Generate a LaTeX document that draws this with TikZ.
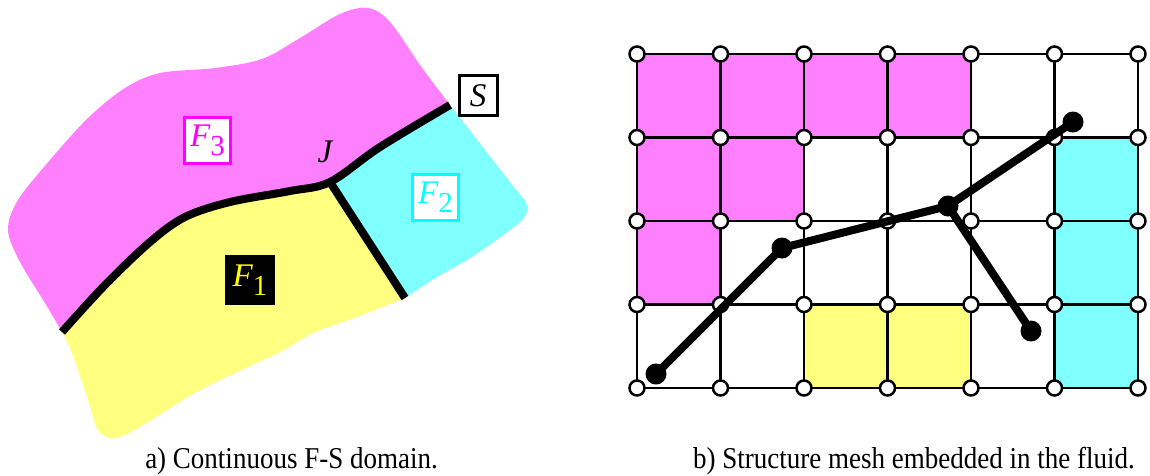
\documentclass[tikz,border=0pt]{standalone}
\usepackage{fontspec}
\setmainfont{Liberation Serif}
\definecolor{mag}{HTML}{FF80FF}
\definecolor{cya}{HTML}{80FFFF}
\definecolor{yel}{HTML}{FFFF80}
\definecolor{magdark}{HTML}{FF00FF}
\definecolor{cyadark}{HTML}{00FFFF}
\definecolor{yeldark}{HTML}{FFFF00}
\newcommand\Flab[1]{\fontsize{33}{33}\selectfont\itshape F\upshape\raisebox{-9pt}{\fontsize{29}{29}\selectfont #1}}
\begin{document}
\begin{tikzpicture}[x=1pt,y=-1pt,
  ifline/.style={line width=8pt, line join=round},
  gridline/.style={line width=2.8pt},
  gnode/.style={circle, draw=black, fill=white, line width=2.5pt, minimum size=15pt, inner sep=0pt},
  snode/.style={circle, fill=black, minimum size=21pt, inner sep=0pt},
  sline/.style={line width=8pt},
  lbl/.style={inner sep=0pt, line width=3pt},
  captext/.style={font=\fontsize{27}{32}\selectfont, inner sep=0pt}]
\useasboundingbox (0,0) rectangle (1150,475);
\fill[white] (0,0) rectangle (1150,475);

% ---------- a) continuous domain ----------
\fill[mag] plot[smooth,tension=.55] coordinates {(62,332) (105,285) (150,242) (185,217) (230,202) (290,191) (330,182) (380,147) (450,105)}
  -- plot[smooth,tension=.55] coordinates {(450,105) (420,65) (390,22) (368,8) (340,14) (300,38) (262,59) (215,68) (160,73) (125,88) (88,118) (50,160) (18,200) (8,230) (20,262) (45,303) (62,332)} -- cycle;
\fill[yel] plot[smooth,tension=.55] coordinates {(62,332) (105,285) (150,242) (185,217) (230,202) (290,191) (330,182)}
  -- (405,298)
  -- plot[smooth,tension=.55] coordinates {(405,298) (357,317) (313,333) (280,352) (200,390) (140,427) (114,438) (98,430) (88,400) (72,353) (62,332)} -- cycle;
\fill[cya] plot[smooth,tension=.55] coordinates {(330,182) (380,147) (450,105)}
  -- plot[smooth,tension=.55] coordinates {(450,105) (485,150) (513,186) (527,205) (522,220) (495,241) (467,260) (437,277) (405,298)} -- cycle;
\draw[ifline] plot[smooth,tension=.55] coordinates {(62,332) (105,285) (150,242) (185,217) (230,202) (290,191) (330,182) (380,147) (450,105)};
\draw[ifline] (330,182) -- (405,298);

\node[lbl, draw=magdark, fill=white, text=magdark, minimum width=46pt, minimum height=46pt] (f3) at (207.5,140.5) {\Flab{3}};
\node[lbl, draw=cyadark, fill=white, text=cyadark, minimum width=46pt, minimum height=46pt] (f2) at (435.5,197.5) {\Flab{2}};
\node[lbl, fill=black, text=yeldark, minimum width=50pt, minimum height=50pt] (f1) at (250,280) {\Flab{1}};
\node[lbl, draw=black, fill=white, minimum width=38pt, minimum height=40pt] (s) at (478,95.5) {\fontsize{33}{33}\selectfont\itshape S};
\node[inner sep=0pt] (j) at (325,152) {\fontsize{33}{33}\selectfont\itshape J};

% ---------- b) mesh ----------
\foreach \i in {0,...,6}{\foreach \j in {0,...,4}{\coordinate (p-\i-\j) at ({637+83.5*\i},{54+83.5*\j});}}
\fill[mag] (p-0-0) rectangle (p-4-1);
\fill[mag] (p-0-1) rectangle (p-2-2);
\fill[mag] (p-0-2) rectangle (p-1-3);
\fill[cya] (p-5-1) rectangle (p-6-4);
\fill[yel] (p-2-3) rectangle (p-4-4);
\foreach \j in {0,...,4}{\draw[gridline] (p-0-\j) -- (p-6-\j);}
\foreach \i in {0,...,6}{\draw[gridline] (p-\i-0) -- (p-\i-4);}
\foreach \i in {0,...,6}{\foreach \j in {0,...,4}{\node[gnode] (g-\i-\j) at (p-\i-\j) {};}}

\node[snode] (s1) at (656,374) {};
\node[snode] (s2) at (782,248) {};
\node[snode] (s3) at (948,206) {};
\node[snode] (s4) at (1073,122) {};
\node[snode] (s5) at (1031,331) {};
\draw[sline] (s1.center) -- (s2.center) -- (s3.center) -- (s4.center);
\draw[sline] (s3.center) -- (s5.center);

% ---------- captions ----------
\node[captext, anchor=base] (capa) at (291.5,468) {\scalebox{1}[1.12]{a) Continuous F-S domain.}};
\node[captext, anchor=base] (capb) at (914,468) {\scalebox{1}[1.12]{b) Structure mesh embedded in the fluid.}};
\end{tikzpicture}
\end{document}
